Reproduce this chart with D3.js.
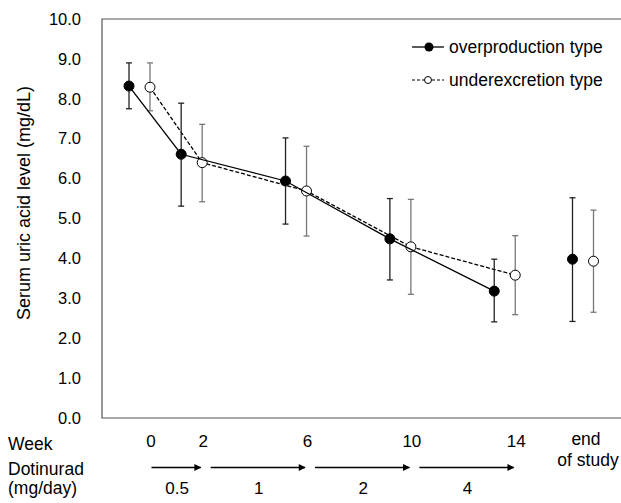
<!DOCTYPE html>
<html>
<head>
<meta charset="utf-8">
<script src="https://d3js.org/d3.v7.min.js"></script>
<style>
  body { margin: 0; background: #fff; }
  svg { font-family: Arial, "Liberation Sans", sans-serif; }
  .tick text { font-size: 16.5px; fill: #000; }
</style>
</head>
<body>
<svg id="chart" width="621" height="503"></svg>
<script>
// x position of each visit (weeks; "end of study" drawn at 17)
var visitPos = [0, 2, 6, 10, 14, 17];
var visitLabels = ["0", "2", "6", "10", "14", "end|of study"];

// overproduction type (filled)
var overMean = [8.32, 6.61, 5.94, 4.49, 3.18, 3.98];
var overLow  = [7.75, 5.31, 4.86, 3.46, 2.41, 2.42];
var overHigh = [8.90, 7.89, 7.02, 5.50, 3.98, 5.52];

// underexcretion type (open)
var underMean = [8.29, 6.40, 5.69, 4.29, 3.58, 3.93];
var underLow  = [7.70, 5.42, 4.56, 3.10, 2.59, 2.65];
var underHigh = [8.90, 7.36, 6.81, 5.48, 4.57, 5.21];

// dose steps
var doseFrom = [0, 2, 6, 10];
var doseTo   = [2, 6, 10, 14];
var doseLabels = ["0.5", "1", "2", "4"];

var yTicks = [0, 1, 2, 3, 4, 5, 6, 7, 8, 9, 10];

var svg = d3.select("#chart");
var pLeft = 102, pTop = 19, pBottom = 418, pRight = 621;

var x = d3.scaleLinear().domain([0, 17]).range([139.5, 583]);
var y = d3.scaleLinear().domain([0, 10]).range([pBottom, pTop]);

// arrow marker
svg.append("defs").append("marker")
  .attr("id", "arrow")
  .attr("viewBox", "0 0 10 10")
  .attr("refX", 9).attr("refY", 5)
  .attr("markerWidth", 8).attr("markerHeight", 7)
  .attr("markerUnits", "userSpaceOnUse")
  .attr("orient", "auto")
  .append("path")
  .attr("d", "M0,0L10,5L0,10z")
  .attr("fill", "#000");

// plot frame
svg.append("path")
  .attr("d", "M" + pRight + "," + pTop + "H" + pLeft + "V" + pBottom + "H" + pRight)
  .attr("fill", "none")
  .attr("stroke", "#555")
  .attr("stroke-width", 1.2);

// y axis
var yAxis = svg.append("g")
  .attr("transform", "translate(" + pLeft + ",0)")
  .call(d3.axisLeft(y).tickValues(yTicks).tickSize(0).tickPadding(21).tickFormat(d3.format(".1f")));
yAxis.select(".domain").remove();

svg.append("text")
  .attr("transform", "translate(30,203) rotate(-90)")
  .attr("text-anchor", "middle")
  .attr("font-size", 18)
  .text("Serum uric acid level (mg/dL)");

var idx = d3.range(visitPos.length);
var offset = 10.5;

function drawSeries(mean, low, high, dx, filled, dash, errColor) {
  var g = svg.append("g");
  // error bars
  idx.forEach(function(i) {
    var cx = x(visitPos[i]) + dx;
    g.append("line").attr("x1", cx).attr("x2", cx)
      .attr("y1", y(low[i])).attr("y2", y(high[i]))
      .attr("stroke", errColor).attr("stroke-width", 1.3);
    [low[i], high[i]].forEach(function(v) {
      g.append("line").attr("x1", cx - 3).attr("x2", cx + 3)
        .attr("y1", y(v)).attr("y2", y(v))
        .attr("stroke", errColor).attr("stroke-width", 1.3);
    });
  });
  // connecting line (weeks 0-14 only)
  var line = d3.line()
    .x(function(i) { return x(visitPos[i]) + dx; })
    .y(function(i) { return y(mean[i]); });
  g.append("path")
    .datum(idx.slice(0, 5))
    .attr("d", line)
    .attr("fill", "none")
    .attr("stroke", "#000")
    .attr("stroke-width", 1.3)
    .attr("stroke-dasharray", dash);
  g.selectAll("circle")
    .data(idx)
    .enter().append("circle")
    .attr("cx", function(i) { return x(visitPos[i]) + dx; })
    .attr("cy", function(i) { return y(mean[i]); })
    .attr("r", 5)
    .attr("fill", filled ? "#000" : "#fff")
    .attr("stroke", "#000")
    .attr("stroke-width", 1);
}

drawSeries(underMean, underLow, underHigh, offset, false, "4,2", "#777");
drawSeries(overMean, overLow, overHigh, -offset, true, null, "#222");

// legend
var legend = svg.append("g");
legend.append("line").attr("x1", 412).attr("x2", 444).attr("y1", 47).attr("y2", 47)
  .attr("stroke", "#000").attr("stroke-width", 1.3);
legend.append("circle").attr("cx", 429).attr("cy", 47).attr("r", 4.5).attr("fill", "#000");
legend.append("text").attr("x", 449).attr("y", 53).attr("font-size", 17.5).text("overproduction type");
legend.append("line").attr("x1", 412).attr("x2", 444).attr("y1", 80).attr("y2", 80)
  .attr("stroke", "#000").attr("stroke-width", 1).attr("stroke-dasharray", "3,2");
legend.append("circle").attr("cx", 428).attr("cy", 80).attr("r", 3.5)
  .attr("fill", "#fff").attr("stroke", "#000").attr("stroke-width", 1);
legend.append("text").attr("x", 449).attr("y", 86).attr("font-size", 17.5).text("underexcretion type");

// week row
svg.append("text").attr("x", 8).attr("y", 450).attr("font-size", 17.5).text("Week");
idx.forEach(function(i) {
  var parts = visitLabels[i].split("|");
  if (parts.length === 1) {
    svg.append("text").attr("x", x(visitPos[i]) + 11.5).attr("y", 447).attr("text-anchor", "middle")
      .attr("font-size", 17).text(parts[0]);
  } else {
    svg.append("text").attr("x", x(visitPos[i]) + 3).attr("y", 444.5).attr("text-anchor", "middle")
      .attr("font-size", 17.5).text(parts[0]);
    svg.append("text").attr("x", x(visitPos[i]) + 5).attr("y", 466).attr("text-anchor", "middle")
      .attr("font-size", 17.5).text(parts[1]);
  }
});

// dose row
svg.append("text").attr("x", 8).attr("y", 475).attr("font-size", 17.5).text("Dotinurad");
svg.append("text").attr("x", 8).attr("y", 494).attr("font-size", 17.5).text("(mg/day)");
doseLabels.forEach(function(lbl, i) {
  var x1 = x(doseFrom[i]) + (i === 0 ? 12 : 19);
  var x2 = x(doseTo[i]) + 9;
  svg.append("line").attr("x1", x1).attr("x2", x2).attr("y1", 467.5).attr("y2", 467.5)
    .attr("stroke", "#000").attr("stroke-width", 1.3).attr("marker-end", "url(#arrow)");
  svg.append("text").attr("x", (x1 + x2) / 2 + 1).attr("y", 494).attr("text-anchor", "middle")
    .attr("font-size", 17).text(lbl);
});
</script>
</body>
</html>
